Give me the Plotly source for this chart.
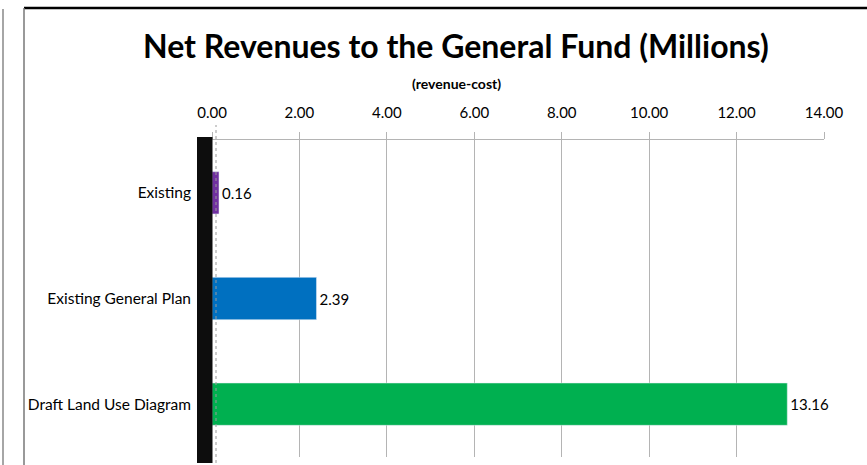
import plotly.graph_objects as go

categories = ['Existing', 'Existing General Plan', 'Draft Land Use Diagram']
net_revenue = [0.16, 2.39, 13.16]
bar_colors = ['#7030A0', '#0070C0', '#00B050']
x_ticks = [0, 2, 4, 6, 8, 10, 12, 14]

W, H = 867, 465
L, R, T, B = 212, 43, 140, 8
pw, ph = W - L - R, H - T - B

def px(x):
    return (x - L) / pw

def py(y):
    return (H - B - y) / ph

fig = go.Figure()
fig.add_trace(go.Bar(
    x=net_revenue,
    y=categories,
    orientation='h',
    marker_color=bar_colors,
    text=[f'{v:.2f}' for v in net_revenue],
    textposition='outside',
    textfont=dict(size=15, color='#000000'),
    cliponaxis=False,
    showlegend=False,
))

fig.update_layout(
    width=W,
    height=H,
    margin=dict(l=L, r=R, t=T, b=B, pad=0),
    paper_bgcolor='white',
    plot_bgcolor='white',
    font=dict(family='Lato', color='#000000'),
    bargap=0.6,
    xaxis=dict(
        side='top',
        range=[0, 14],
        tickvals=x_ticks,
        tickformat='.2f',
        tickfont=dict(size=15),
        ticklabelstandoff=8,
        showgrid=True,
        gridcolor='#B4B4B4',
        gridwidth=1,
        showline=True,
        linecolor='#B4B4B4',
        linewidth=1,
        ticks='outside',
        ticklen=7,
        tickcolor='#B4B4B4',
        zeroline=False,
        fixedrange=True,
    ),
    yaxis=dict(
        categoryorder='array',
        categoryarray=categories,
        autorange='reversed',
        tickfont=dict(size=15.5),
        ticklabelstandoff=20,
        showgrid=False,
        zeroline=False,
        showline=False,
        ticks='',
    ),
    annotations=[
        dict(text='<b>Net Revenues to the General Fund (Millions)</b>',
             xref='paper', yref='paper', x=px(456), y=py(45),
             showarrow=False, font=dict(size=32), xanchor='center', yanchor='middle'),
        dict(text='<b>(revenue-cost)</b>',
             xref='paper', yref='paper', x=px(456), y=py(83),
             showarrow=False, font=dict(size=14), xanchor='center', yanchor='middle'),
    ],
    shapes=[
        # thick black axis bar
        dict(type='rect', xref='paper', yref='paper', x0=px(197), x1=px(212.5),
             y0=py(463), y1=py(137), fillcolor='#0D0D0D', line_width=0),
        # dotted line next to the axis
        dict(type='line', xref='paper', yref='paper', x0=px(216), x1=px(216),
             y0=py(463), y1=py(125), line=dict(color='#9A9A9A', width=1, dash='dot')),
        # chart frame
        dict(type='line', xref='paper', yref='paper', x0=px(24), x1=px(867),
             y0=py(8), y1=py(8), line=dict(color='#000000', width=2.5)),
        dict(type='line', xref='paper', yref='paper', x0=px(24), x1=px(24),
             y0=py(470), y1=py(8), line=dict(color='#777777', width=1.5)),
        dict(type='line', xref='paper', yref='paper', x0=px(3), x1=px(3),
             y0=py(470), y1=py(9), line=dict(color='#888888', width=1.5)),
    ],
)

# page has a default 8px body margin; drop it so the figure sits at 0,0
fig.write_html('out.html', config={'displayModeBar': False},
               post_script="document.body.style.margin='0';")
